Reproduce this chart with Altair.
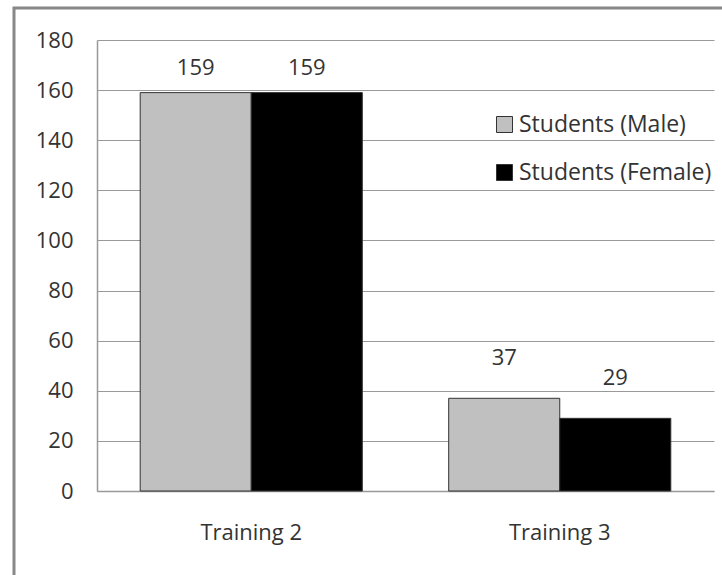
import altair as alt
import pandas as pd

# Enrolment counts per training session
trainings = ["Training 2", "Training 2", "Training 3", "Training 3"]
groups = ["Students (Male)", "Students (Female)", "Students (Male)", "Students (Female)"]
counts = [159, 159, 37, 29]

series_order = ["Students (Male)", "Students (Female)"]
series_colors = ["#c0c0c0", "#000000"]
y_ticks = list(range(0, 181, 20))

df = pd.DataFrame({"training": trainings, "group": groups, "count": counts})

FONT = "Open Sans"
W, H = 617, 451

base = alt.Chart(df).encode(
    x=alt.X("training:N", title=None, sort=["Training 2", "Training 3"],
            scale=alt.Scale(paddingInner=0.28, paddingOuter=0.14),
            axis=alt.Axis(labelAngle=0, labelFontSize=22, labelFont=FONT,
                          labelColor="#333", labelPadding=31, ticks=False,
                          domainColor="#999", domainWidth=1.5)),
    xOffset=alt.XOffset("group:N", sort=series_order),
)

bars = base.mark_bar(stroke="#333", strokeWidth=1).encode(
    y=alt.Y("count:Q", title=None,
            scale=alt.Scale(domain=[0, 180], nice=False),
            axis=alt.Axis(values=y_ticks, labelFontSize=22, labelFont=FONT,
                          labelColor="#333", labelPadding=24, ticks=False,
                          gridColor="#999", gridWidth=1.2,
                          domainColor="#999", domainWidth=1.5)),
    color=alt.Color("group:N", sort=series_order,
                    scale=alt.Scale(domain=series_order, range=series_colors),
                    legend=alt.Legend(title=None, orient="none", legendX=396, legendY=73,
                                      symbolType="square", symbolSize=256,
                                      symbolStrokeColor="#333", symbolStrokeWidth=1,
                                      labelFontSize=23, labelFont=FONT, labelColor="#333",
                                      labelLimit=400, rowPadding=24, labelOffset=3)),
)

# Value labels: the tall pair sits close to its bars, the short pair higher up
label_style = dict(baseline="bottom", fontSize=22, font=FONT, color="#333")
labels_t2 = base.mark_text(dy=-13, **label_style).encode(
    y=alt.Y("count:Q"), text=alt.Text("count:Q"),
).transform_filter(alt.datum.training == "Training 2")
labels_t3 = base.mark_text(dy=-28, **label_style).encode(
    y=alt.Y("count:Q"), text=alt.Text("count:Q"),
).transform_filter(alt.datum.training == "Training 3")

# Outer frame drawn around the whole figure
frame = alt.Chart(df.head(1)).mark_rect(
    fill=None, stroke="#888", strokeWidth=3, clip=False
).encode(
    x=alt.value(-83), x2=alt.value(W + 40),
    y=alt.value(-32), y2=alt.value(H + 150),
)

chart = alt.layer(frame, bars, labels_t2, labels_t3).properties(
    width=W, height=H,
    autosize=alt.AutoSizeParams(type="none"),
    padding={"left": 97, "top": 40, "right": 8, "bottom": 84},
    background="white",
).configure_view(stroke=None)

chart.save("out.html", embed_options={"renderer": "svg", "actions": False})
